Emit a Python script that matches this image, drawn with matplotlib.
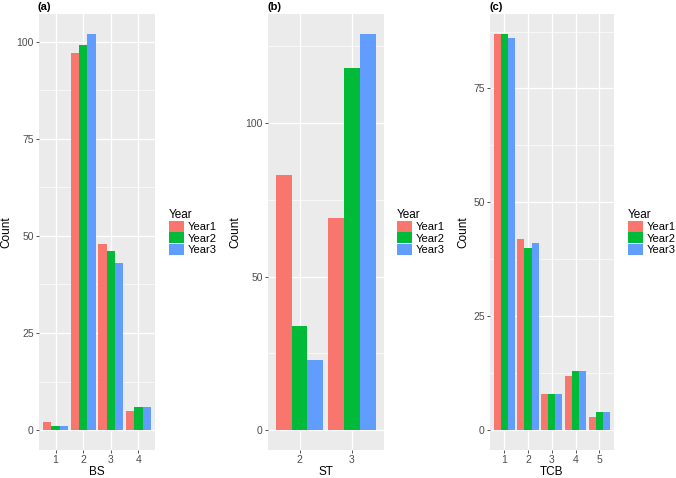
import numpy as np
import matplotlib
matplotlib.use("Agg")
import matplotlib.pyplot as plt
from matplotlib.ticker import FixedLocator

plt.rcParams['font.family'] = ['Liberation Sans', 'DejaVu Sans']

years = ['Year1', 'Year2', 'Year3']
colors = ['#F8766D', '#00BA38', '#619CFF']

# panel (a): BS
bs_cats = ['1', '2', '3', '4']
bs_year1 = [2, 97, 48, 5]
bs_year2 = [1, 99, 46, 6]
bs_year3 = [1, 102, 43, 6]

# panel (b): ST
st_cats = ['2', '3']
st_year1 = [83, 69]
st_year2 = [34, 118]
st_year3 = [23, 129]

# panel (c): TCB
tcb_cats = ['1', '2', '3', '4', '5']
tcb_year1 = [87, 42, 8, 12, 3]
tcb_year2 = [87, 40, 8, 13, 4]
tcb_year3 = [86, 41, 8, 13, 4]

panels = [
    ('(a)', 'BS', bs_cats, [bs_year1, bs_year2, bs_year3], [0, 25, 50, 75, 100]),
    ('(b)', 'ST', st_cats, [st_year1, st_year2, st_year3], [0, 50, 100]),
    ('(c)', 'TCB', tcb_cats, [tcb_year1, tcb_year2, tcb_year3], [0, 25, 50, 75]),
]

# axes boxes in pixels: left, width
boxes = [(39, 116), (268, 115.5), (490, 123.5)]
W, H = 676, 478
top_px, bot_px = 14, 450

fig = plt.figure(figsize=(W / 100, H / 100), dpi=100)

for (tag, xlabel, cats, series, yticks), (lpx, wpx) in zip(panels, boxes):
    ax = fig.add_axes([lpx / W, 1 - bot_px / H, wpx / W, (bot_px - top_px) / H])
    ax.set_facecolor('#EBEBEB')
    for s in ax.spines.values():
        s.set_visible(False)

    x = np.arange(1, len(cats) + 1)
    bw = 0.9 / 3
    handles = []
    for i, (vals, col, name) in enumerate(zip(series, colors, years)):
        h = ax.bar(x + (i - 1) * bw, vals, width=bw, color=col, label=name, zorder=3)
        handles.append(h)

    ymax = max(max(v) for v in series)
    ax.set_ylim(-0.05 * ymax, 1.05 * ymax)
    ax.set_xlim(0.4, len(cats) + 0.6)

    ax.set_xticks(x)
    ax.set_xticklabels(cats)
    ax.set_yticks(yticks)
    step = yticks[1] - yticks[0]
    minors = [t + step / 2 for t in yticks if t + step / 2 < 1.05 * ymax]
    ax.yaxis.set_minor_locator(FixedLocator(minors))
    ax.tick_params(axis='both', which='major', length=2.5, width=0.6, color='#333333',
                   labelsize=7.5, labelcolor='#4D4D4D', pad=1.2)
    ax.tick_params(axis='y', which='minor', length=0)

    ax.grid(True, which='major', color='white', linewidth=0.9, zorder=0)
    ax.grid(True, which='minor', axis='y', color='white', linewidth=0.45, zorder=0)
    ax.set_axisbelow(True)

    ax.set_xlabel(xlabel, fontsize=8.5, labelpad=0.5)
    ax.set_ylabel('Count', fontsize=8.5, labelpad=3)

    leg = ax.legend(handles=handles, title='Year', loc='center left',
                    bbox_to_anchor=(1.08, 0.5), frameon=False, fontsize=8,
                    title_fontsize=8.5, handlelength=1.35, handleheight=1.15,
                    labelspacing=0.0, handletextpad=0.35, borderaxespad=0,
                    alignment='left')

    fig.text((lpx - 1) / W, 1 - 2 / H, tag, fontsize=8, fontweight='bold',
             ha='left', va='top')

fig.savefig('out.png', dpi=100)
